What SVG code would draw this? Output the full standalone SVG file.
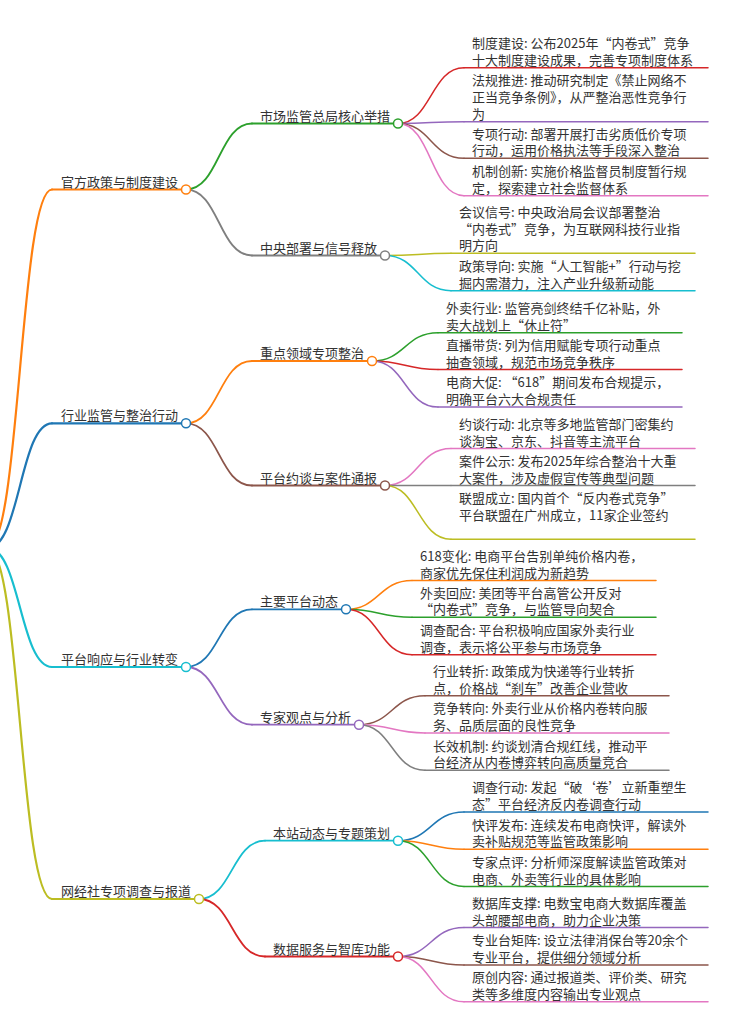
<svg xmlns="http://www.w3.org/2000/svg" width="735" height="1014" viewBox="0 0 735 1014">
<style>
text{font-family:"Noto Sans CJK SC","Noto Sans",sans-serif;font-size:13px;fill:#333}
path,line{fill:none;stroke-linecap:round}
circle{fill:#fff;stroke-width:1.5}
.w1{stroke-width:2.2}.w2{stroke-width:1.8}.w3{stroke-width:1.5}
.c0{stroke:#1f77b4}.c1{stroke:#ff7f0e}.c2{stroke:#2ca02c}.c3{stroke:#d62728}.c4{stroke:#9467bd}
.c5{stroke:#8c564b}.c6{stroke:#e377c2}.c7{stroke:#7f7f7f}.c8{stroke:#bcbd22}.c9{stroke:#17becf}
</style>
<rect width="735" height="1014" fill="#fff"/>
<g id="connectors">
<path class="c1 w1" d="M-12,548 C20,548 20,189.5 52,189.5"/>
<path class="c0 w1" d="M-12,548 C20,548 20,423.3 52,423.3"/>
<path class="c9 w1" d="M-12,548 C20,548 20,667 52,667"/>
<path class="c8 w1" d="M-12,548 C20,548 20,899 52,899"/>
<path class="c2 w2" d="M186,189.5 C219,189.5 219,123.5 252,123.5"/>
<path class="c7 w2" d="M186,189.5 C219,189.5 219,255.5 252,255.5"/>
<path class="c1 w2" d="M186,423.3 C219,423.3 219,361 252,361"/>
<path class="c5 w2" d="M186,423.3 C219,423.3 219,485.5 252,485.5"/>
<path class="c0 w2" d="M186,667 C219,667 219,609.3 252,609.3"/>
<path class="c4 w2" d="M186,667 C219,667 219,724.7 252,724.7"/>
<path class="c9 w2" d="M199,899 C232,899 232,840.7 265,840.7"/>
<path class="c3 w2" d="M199,899 C232,899 232,956.5 265,956.5"/>
<path class="c3 w3" d="M398,123.5 C431,123.5 431,67.7 464,67.7"/>
<path class="c4 w3" d="M398,123.5 C431,123.5 431,121.7 464,121.7"/>
<path class="c5 w3" d="M398,123.5 C431,123.5 431,158.3 464,158.3"/>
<path class="c6 w3" d="M398,123.5 C431,123.5 431,195.7 464,195.7"/>
<path class="c8 w3" d="M385,255.5 C418,255.5 418,253.3 451,253.3"/>
<path class="c9 w3" d="M385,255.5 C418,255.5 418,290.7 451,290.7"/>
<path class="c2 w3" d="M372,361 C405,361 405,332.7 438,332.7"/>
<path class="c3 w3" d="M372,361 C405,361 405,369.5 438,369.5"/>
<path class="c4 w3" d="M372,361 C405,361 405,407 438,407"/>
<path class="c6 w3" d="M385,485.5 C418,485.5 418,448.5 451,448.5"/>
<path class="c7 w3" d="M385,485.5 C418,485.5 418,485.5 451,485.5"/>
<path class="c8 w3" d="M385,485.5 C418,485.5 418,539.3 451,539.3"/>
<path class="c1 w3" d="M346,609.3 C379,609.3 379,580.5 412,580.5"/>
<path class="c2 w3" d="M346,609.3 C379,609.3 379,617.3 412,617.3"/>
<path class="c3 w3" d="M346,609.3 C379,609.3 379,654.7 412,654.7"/>
<path class="c5 w3" d="M359,724.7 C392,724.7 392,695.7 425,695.7"/>
<path class="c6 w3" d="M359,724.7 C392,724.7 392,733 425,733"/>
<path class="c7 w3" d="M359,724.7 C392,724.7 392,770.3 425,770.3"/>
<path class="c0 w3" d="M398,840.7 C431,840.7 431,812 464,812"/>
<path class="c1 w3" d="M398,840.7 C431,840.7 431,849.2 464,849.2"/>
<path class="c2 w3" d="M398,840.7 C431,840.7 431,886.5 464,886.5"/>
<path class="c4 w3" d="M398,956.5 C431,956.5 431,927.5 464,927.5"/>
<path class="c5 w3" d="M398,956.5 C431,956.5 431,965 464,965"/>
<path class="c6 w3" d="M398,956.5 C431,956.5 431,1001.8 464,1001.8"/>
</g>

<g id="n1"><line class="c1 w1" x1="52" y1="189.5" x2="186" y2="189.5"/><text x="61" y="186.5">官方政策与制度建设</text><circle class="c1" cx="186" cy="189.5" r="4.5"/></g>
<g id="n1-1"><line class="c2 w2" x1="252" y1="123.5" x2="398" y2="123.5"/><text x="260" y="120.5">市场监管总局核心举措</text><circle class="c2" cx="398" cy="123.5" r="4.5"/></g>
<g id="n1-1-1"><line class="c3 w3" x1="464" y1="67.7" x2="708" y2="67.7"/><text x="472" y="48"><tspan x="472" y="48">制度建设: 公布2025年“内卷式”竞争</tspan><tspan x="472" y="64.7">十大制度建设成果，完善专项制度体系</tspan></text></g>
<g id="n1-1-2"><line class="c4 w3" x1="464" y1="121.7" x2="708" y2="121.7"/><text><tspan x="472" y="85.3">法规推进: 推动研究制定《禁止网络不</tspan><tspan x="472" y="102">正当竞争条例》，从严整治恶性竞争行</tspan><tspan x="472" y="118.7">为</tspan></text></g>
<g id="n1-1-3"><line class="c5 w3" x1="464" y1="158.3" x2="708" y2="158.3"/><text><tspan x="472" y="138.6">专项行动: 部署开展打击劣质低价专项</tspan><tspan x="472" y="155.3">行动，运用价格执法等手段深入整治</tspan></text></g>
<g id="n1-1-4"><line class="c6 w3" x1="464" y1="195.7" x2="708" y2="195.7"/><text><tspan x="472" y="176">机制创新: 实施价格监督员制度暂行规</tspan><tspan x="472" y="192.7">定，探索建立社会监督体系</tspan></text></g>
<g id="n1-2"><line class="c7 w2" x1="252" y1="255.5" x2="385" y2="255.5"/><text x="260" y="252.5">中央部署与信号释放</text><circle class="c7" cx="385" cy="255.5" r="4.5"/></g>
<g id="n1-2-1"><line class="c8 w3" x1="451" y1="253.3" x2="695" y2="253.3"/><text><tspan x="459" y="216.9">会议信号: 中央政治局会议部署整治</tspan><tspan x="459" y="233.6">“内卷式”竞争，为互联网科技行业指</tspan><tspan x="459" y="250.3">明方向</tspan></text></g>
<g id="n1-2-2"><line class="c9 w3" x1="451" y1="290.7" x2="695" y2="290.7"/><text><tspan x="459" y="271">政策导向: 实施“人工智能+”行动与挖</tspan><tspan x="459" y="287.7">掘内需潜力，注入产业升级新动能</tspan></text></g>

<g id="n2"><line class="c0 w1" x1="52" y1="423.3" x2="186" y2="423.3"/><text x="61" y="420.3">行业监管与整治行动</text><circle class="c0" cx="186" cy="423.3" r="4.5"/></g>
<g id="n2-1"><line class="c1 w2" x1="252" y1="361" x2="372" y2="361"/><text x="260" y="358">重点领域专项整治</text><circle class="c1" cx="372" cy="361" r="4.5"/></g>
<g id="n2-1-1"><line class="c2 w3" x1="438" y1="332.7" x2="682" y2="332.7"/><text><tspan x="446" y="313">外卖行业: 监管亮剑终结千亿补贴，外</tspan><tspan x="446" y="329.7">卖大战划上“休止符”</tspan></text></g>
<g id="n2-1-2"><line class="c3 w3" x1="438" y1="369.5" x2="682" y2="369.5"/><text><tspan x="446" y="349.8">直播带货: 列为信用赋能专项行动重点</tspan><tspan x="446" y="366.5">抽查领域，规范市场竞争秩序</tspan></text></g>
<g id="n2-1-3"><line class="c4 w3" x1="438" y1="407" x2="682" y2="407"/><text><tspan x="446" y="387.3">电商大促: “618”期间发布合规提示，</tspan><tspan x="446" y="404">明确平台六大合规责任</tspan></text></g>
<g id="n2-2"><line class="c5 w2" x1="252" y1="485.5" x2="385" y2="485.5"/><text x="260" y="482.5">平台约谈与案件通报</text><circle class="c5" cx="385" cy="485.5" r="4.5"/></g>
<g id="n2-2-1"><line class="c6 w3" x1="451" y1="448.5" x2="695" y2="448.5"/><text><tspan x="459" y="428.8">约谈行动: 北京等多地监管部门密集约</tspan><tspan x="459" y="445.5">谈淘宝、京东、抖音等主流平台</tspan></text></g>
<g id="n2-2-2"><line class="c7 w3" x1="451" y1="485.5" x2="695" y2="485.5"/><text><tspan x="459" y="465.8">案件公示: 发布2025年综合整治十大重</tspan><tspan x="459" y="482.5">大案件，涉及虚假宣传等典型问题</tspan></text></g>
<g id="n2-2-3"><line class="c8 w3" x1="451" y1="539.3" x2="695" y2="539.3"/><text><tspan x="459" y="502.9">联盟成立: 国内首个“反内卷式竞争”</tspan><tspan x="459" y="519.6">平台联盟在广州成立，11家企业签约</tspan></text></g>

<g id="n3"><line class="c9 w1" x1="52" y1="667" x2="186" y2="667"/><text x="61" y="664">平台响应与行业转变</text><circle class="c9" cx="186" cy="667" r="4.5"/></g>
<g id="n3-1"><line class="c0 w2" x1="252" y1="609.3" x2="346" y2="609.3"/><text x="260" y="606.3">主要平台动态</text><circle class="c0" cx="346" cy="609.3" r="4.5"/></g>
<g id="n3-1-1"><line class="c1 w3" x1="412" y1="580.5" x2="656" y2="580.5"/><text><tspan x="420" y="560.8">618变化: 电商平台告别单纯价格内卷，</tspan><tspan x="420" y="577.5">商家优先保住利润成为新趋势</tspan></text></g>
<g id="n3-1-2"><line class="c2 w3" x1="412" y1="617.3" x2="656" y2="617.3"/><text><tspan x="420" y="597.6">外卖回应: 美团等平台高管公开反对</tspan><tspan x="420" y="614.3">“内卷式”竞争，与监管导向契合</tspan></text></g>
<g id="n3-1-3"><line class="c3 w3" x1="412" y1="654.7" x2="656" y2="654.7"/><text><tspan x="420" y="635">调查配合: 平台积极响应国家外卖行业</tspan><tspan x="420" y="651.7">调查，表示将公平参与市场竞争</tspan></text></g>
<g id="n3-2"><line class="c4 w2" x1="252" y1="724.7" x2="359" y2="724.7"/><text x="260" y="721.7">专家观点与分析</text><circle class="c4" cx="359" cy="724.7" r="4.5"/></g>
<g id="n3-2-1"><line class="c5 w3" x1="425" y1="695.7" x2="669" y2="695.7"/><text><tspan x="433" y="676">行业转折: 政策成为快递等行业转折</tspan><tspan x="433" y="692.7">点，价格战“刹车”改善企业营收</tspan></text></g>
<g id="n3-2-2"><line class="c6 w3" x1="425" y1="733" x2="669" y2="733"/><text><tspan x="433" y="713.3">竞争转向: 外卖行业从价格内卷转向服</tspan><tspan x="433" y="730">务、品质层面的良性竞争</tspan></text></g>
<g id="n3-2-3"><line class="c7 w3" x1="425" y1="770.3" x2="669" y2="770.3"/><text><tspan x="433" y="750.6">长效机制: 约谈划清合规红线，推动平</tspan><tspan x="433" y="767.3">台经济从内卷博弈转向高质量竞合</tspan></text></g>

<g id="n4"><line class="c8 w1" x1="52" y1="899" x2="199" y2="899"/><text x="61" y="896">网经社专项调查与报道</text><circle class="c8" cx="199" cy="899" r="4.5"/></g>
<g id="n4-1"><line class="c9 w2" x1="265" y1="840.7" x2="398" y2="840.7"/><text x="273" y="837.7">本站动态与专题策划</text><circle class="c9" cx="398" cy="840.7" r="4.5"/></g>
<g id="n4-1-1"><line class="c0 w3" x1="464" y1="812" x2="708" y2="812"/><text><tspan x="472" y="792.3">调查行动: 发起“破‘卷’立新重塑生</tspan><tspan x="472" y="809">态”平台经济反内卷调查行动</tspan></text></g>
<g id="n4-1-2"><line class="c1 w3" x1="464" y1="849.2" x2="708" y2="849.2"/><text><tspan x="472" y="829.5">快评发布: 连续发布电商快评，解读外</tspan><tspan x="472" y="846.2">卖补贴规范等监管政策影响</tspan></text></g>
<g id="n4-1-3"><line class="c2 w3" x1="464" y1="886.5" x2="708" y2="886.5"/><text><tspan x="472" y="866.8">专家点评: 分析师深度解读监管政策对</tspan><tspan x="472" y="883.5">电商、外卖等行业的具体影响</tspan></text></g>
<g id="n4-2"><line class="c3 w2" x1="265" y1="956.5" x2="398" y2="956.5"/><text x="273" y="953.5">数据服务与智库功能</text><circle class="c3" cx="398" cy="956.5" r="4.5"/></g>
<g id="n4-2-1"><line class="c4 w3" x1="464" y1="927.5" x2="708" y2="927.5"/><text><tspan x="472" y="907.8">数据库支撑: 电数宝电商大数据库覆盖</tspan><tspan x="472" y="924.5">头部腰部电商，助力企业决策</tspan></text></g>
<g id="n4-2-2"><line class="c5 w3" x1="464" y1="965" x2="708" y2="965"/><text><tspan x="472" y="945.3">专业台矩阵: 设立法律消保台等20余个</tspan><tspan x="472" y="962">专业平台，提供细分领域分析</tspan></text></g>
<g id="n4-2-3"><line class="c6 w3" x1="464" y1="1001.8" x2="708" y2="1001.8"/><text><tspan x="472" y="982.1">原创内容: 通过报道类、评价类、研究</tspan><tspan x="472" y="998.8">类等多维度内容输出专业观点</tspan></text></g>
</svg>
